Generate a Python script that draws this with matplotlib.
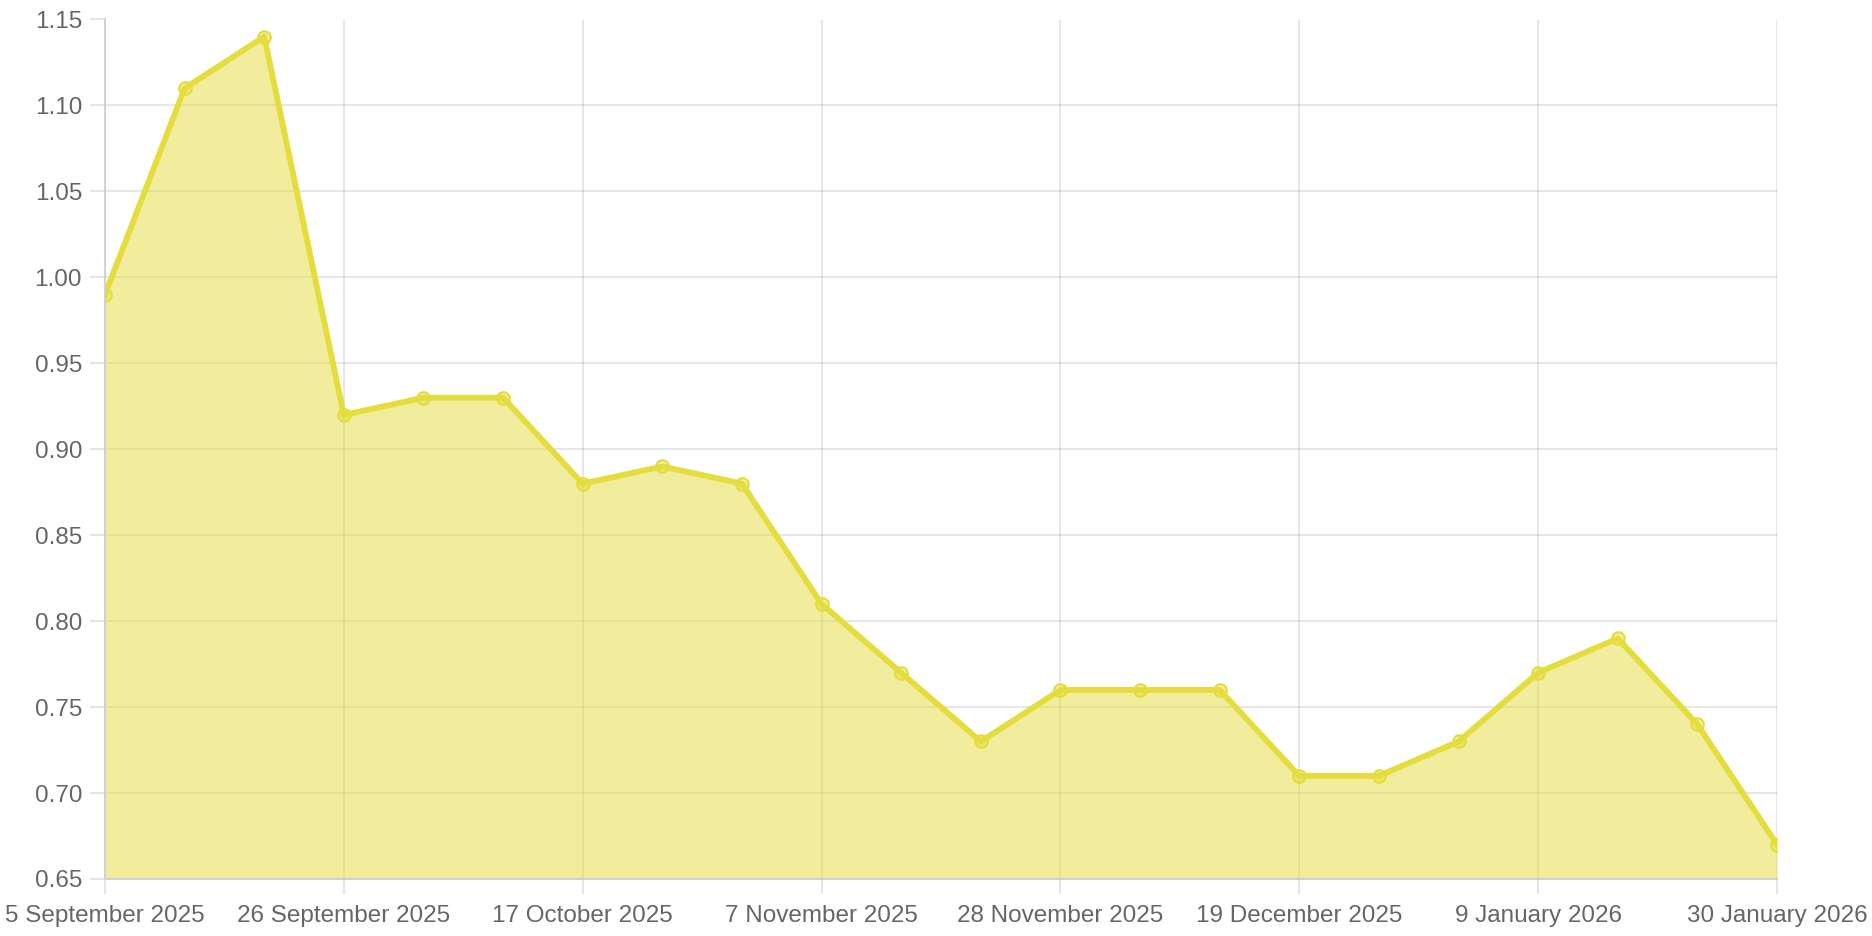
import matplotlib
matplotlib.use("Agg")
import matplotlib.pyplot as plt
import matplotlib.dates as mdates
import datetime as dt

start = dt.date(2025, 9, 5)
dates = [start + dt.timedelta(days=7 * i) for i in range(22)]
values = [0.99, 1.11, 1.14, 0.92, 0.93, 0.93, 0.88, 0.89, 0.88, 0.81, 0.77,
          0.73, 0.76, 0.76, 0.76, 0.71, 0.71, 0.73, 0.77, 0.79, 0.74, 0.67]
tick_dates = [start + dt.timedelta(days=21 * i) for i in range(8)]
tick_labels = ["5 September 2025", "26 September 2025", "17 October 2025",
               "7 November 2025", "28 November 2025", "19 December 2025",
               "9 January 2026", "30 January 2026"]
y_ticks = [0.65, 0.70, 0.75, 0.80, 0.85, 0.90, 0.95, 1.00, 1.05, 1.10, 1.15]

plt.rcParams['font.family'] = ['Liberation Sans', 'DejaVu Sans']

W, H = 1872, 936
fig = plt.figure(figsize=(W / 100, H / 100), dpi=100)
left, right, top, bottom = 105, 1777, 19.5, 879
ax = fig.add_axes([left / W, 1 - bottom / H, (right - left) / W, (bottom - top) / H])

x = mdates.date2num(dates)
line_c = "#e4dd3d"
ax.fill_between(x, values, 0.65, color=line_c, alpha=0.5, linewidth=0, zorder=2)
ax.plot(x, values, color=line_c, linewidth=4.2, zorder=3, solid_joinstyle='round')
ax.plot(x, values, linestyle='none', marker='o', markersize=9,
        markerfacecolor=(0.894, 0.867, 0.239, 0.45), markeredgecolor=line_c,
        markeredgewidth=1.6, zorder=4)

ax.set_xlim(mdates.date2num(dates[0]), mdates.date2num(dates[-1]))
ax.set_ylim(0.65, 1.15)
ax.set_xticks(mdates.date2num(tick_dates))
ax.set_xticklabels(tick_labels)
ax.set_yticks(y_ticks)
ax.set_yticklabels([f"{v:.2f}" for v in y_ticks])

for s in ["top", "right"]:
    ax.spines[s].set_visible(False)
for s in ["left", "bottom"]:
    ax.spines[s].set_color("#cfcfcf")
    ax.spines[s].set_alpha(0.9)
    ax.spines[s].set_linewidth(1.5)
    ax.spines[s].set_zorder(5)
ax.tick_params(axis='both', color="#e3e3e3", length=11, width=1.3,
               labelcolor="#666666", labelsize=17.5)
ax.tick_params(axis='x', pad=7.5)
ax.tick_params(axis='y', pad=5.5)
ax.grid(True, color="black", alpha=0.1, linewidth=1.3)
for gl in ax.get_xgridlines() + ax.get_ygridlines():
    gl.set_zorder(2.5)

fig.savefig("out.png", dpi=100)
